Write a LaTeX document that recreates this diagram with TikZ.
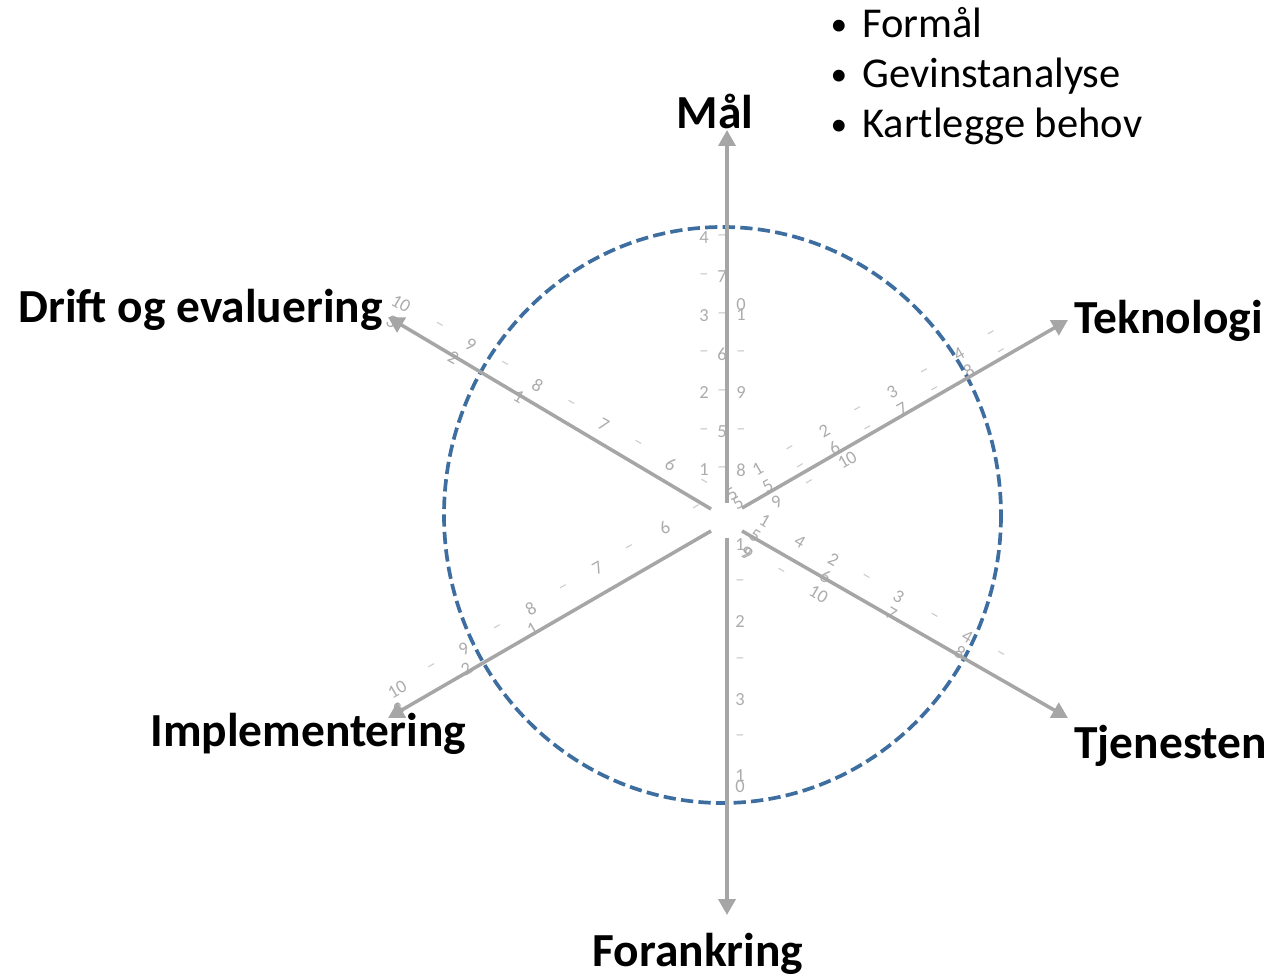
\documentclass[tikz,border=0pt]{standalone}
\usepackage{fontspec}
\setmainfont{Carlito}
\usetikzlibrary{arrows.meta}
\definecolor{axgray}{RGB}{166,166,166}
\definecolor{tkgray}{RGB}{172,172,172}
\definecolor{tdgray}{RGB}{200,200,200}
\definecolor{ringblue}{RGB}{62,110,160}
\tikzset{
  lab/.style={font=\fontsize{27}{30}\selectfont\bfseries, inner sep=0pt, text=black},
  bul/.style={font=\fontsize{24.2}{26}\selectfont, inner sep=0pt, text=black},
  bdot/.style={font=\fontsize{19}{20}\selectfont, inner sep=0pt, text=black},
  tk/.style={font=\fontsize{10.5}{11}\selectfont, inner sep=0pt, text=tkgray},
  tkd/.style={font=\fontsize{10.5}{11}\selectfont, inner sep=0pt, text=tdgray},
  axis/.style={draw=axgray, line width=2pt, -{Triangle[length=9pt,width=9.6pt]}},
  ring/.style={draw=ringblue, line width=2.1pt, dash pattern=on 7pt off 3pt}
}
% label along an axis: name, ux, uy, t, s, rotation, text
\newcommand\axl[7]{\node[tk,rotate=#6] (#1) at ({722+(#4)*(#2)+(#5)*(#3)},{517+(#4)*(#3)-(#5)*(#2)}) {#7};}
% tick dash along an axis: name, ux, uy, t, s, rotation
\newcommand\axd[6]{\node[tkd,rotate=#6] (#1) at ({722+(#4)*(#2)+(#5)*(#3)},{517+(#4)*(#3)-(#5)*(#2)}) {–};}
\begin{document}
\begin{tikzpicture}[x=0.02cm,y=-0.02cm]
\useasboundingbox (0,0) rectangle (1271,977);

% ---------- faint scale residue ----------
% up axis
\foreach \k/\t in {1/47,2/124,3/201,4/279} {\axl{uA\k}{0}{-1}{\t}{18}{0}{\k}}
\foreach \t [count=\i] in {85,163,240} {\axd{uAd\i}{0}{-1}{\t}{18}{0}}
\foreach \t [count=\i] in {47,124,201,279} {\axd{uBd\i}{0}{-1}{\t}{0}{0}}
\foreach \k/\t in {5/85,6/163,7/240} {\axl{uB\k}{0}{-1}{\t}{0}{0}{\k}}
\axl{uC8}{0}{-1}{47}{-19}{0}{8}
\axl{uC9}{0}{-1}{124}{-19}{0}{9}
\axl{uC10a}{0}{-1}{202}{-19}{0}{1}
\axl{uC10b}{0}{-1}{212}{-19}{0}{0}
\foreach \t [count=\i] in {85,163} {\axd{uCd\i}{0}{-1}{\t}{-19}{0}}
\node[tk,rotate=30] (c5a) at (732,494) {5};
\node[tk,rotate=30] (c5b) at (738,503) {5};

% down axis
\foreach \k/\t in {1/28,2/105,3/183} {\axl{dA\k}{0}{1}{\t}{18}{0}{\k}}
\axl{dA10a}{0}{1}{259}{18}{0}{1}
\axl{dA10b}{0}{1}{270}{18}{0}{0}
\foreach \t [count=\i] in {66,144,221} {\axd{dAd\i}{0}{1}{\t}{18}{0}}
\node[tk,rotate=-30] (d9) at (746,553) {9};

% upper right axis
\foreach \k/\t in {1/55,2/132,3/210,4/287} {\axl{rA\k}{0.867}{-0.497}{\t}{24}{30}{\k}}
\foreach \t [count=\i] in {93,171,248,325} {\axd{rAd\i}{0.867}{-0.497}{\t}{24}{30}}
\foreach \k/\t in {5/55,6/132,7/210,8/287} {\axl{rB\k}{0.867}{-0.497}{\t}{4}{30}{\k}}
\foreach \t [count=\i] in {93,171,248,325} {\axd{rBd\i}{0.867}{-0.497}{\t}{3}{30}}
\axl{rC9}{0.867}{-0.497}{55}{-14}{30}{9}
\axl{rC10}{0.867}{-0.497}{137}{-13}{30}{10}
\axd{rCd1}{0.867}{-0.497}{93}{-15}{30}

% lower right axis
\foreach \k/\t in {1/39,2/118,3/193,4/272} {\axl{lrA\k}{0.869}{0.496}{\t}{18}{-30}{\k}}
\axl{lrAx}{0.869}{0.496}{80}{17}{-30}{4}
\foreach \t [count=\i] in {155,233,310} {\axd{lrAd\i}{0.869}{0.496}{\t}{18}{-30}}
\foreach \k/\t in {5/38,6/119,7/195,8/274} {\axl{lrB\k}{0.869}{0.496}{\t}{0}{-30}{\k}}
\axl{lrC9}{0.869}{0.496}{40}{-19}{-30}{9}
\axl{lrC10}{0.869}{0.496}{122}{-19}{-30}{10}
\axd{lrCd1}{0.869}{0.496}{78}{-19}{-30}

% upper left axis
\foreach \k/\t in {6/71,7/149,8/226,9/304,10/385} {\axl{ulA\k}{-0.859}{-0.512}{\t}{-19}{-30}{\k}}
\foreach \t [count=\i] in {33,110,188,265,341} {\axd{ulAd\i}{-0.859}{-0.512}{\t}{-19}{-30}}
\foreach \k/\t in {1/236,2/312,3/384} {\axl{ulB\k}{-0.859}{-0.512}{\t}{1}{-30}{\k}}

% lower left axis
\foreach \k/\t in {6/55,7/133,8/211,9/289,10/367} {\axl{llA\k}{-0.857}{0.516}{\t}{-20}{30}{\k}}
\foreach \t [count=\i] in {17,95,172,249,326} {\axd{llAd\i}{-0.857}{0.516}{\t}{-20}{30}}
\foreach \k/\t in {1/220,2/297,3/376} {\axl{llB\k}{-0.857}{0.516}{\t}{-2}{30}{\k}}

% ---------- dashed ring ----------
\draw[ring] (722.5,515) ellipse [x radius=278.5, y radius=288];

% ---------- axes ----------
\coordinate (uS) at (727,503);  \coordinate (uE) at (727,130);
\coordinate (dS) at (727,538);  \coordinate (dE) at (727,915);
\coordinate (urS) at (742,508); \coordinate (urE) at (1068,320);
\coordinate (lrS) at (742,531); \coordinate (lrE) at (1068,718);
\coordinate (ulS) at (711,509); \coordinate (ulE) at (388,317);
\coordinate (llS) at (711,531); \coordinate (llE) at (388,718);
\draw[axis] (uS) -- (uE);
\draw[axis] (dS) -- (dE);
\draw[axis] (urS) -- (urE);
\draw[axis] (lrS) -- (lrE);
\draw[axis] (ulS) -- (ulE);
\draw[axis] (llS) -- (llE);

% ---------- axis titles ----------
\node[lab, anchor=base] (mal) at (715,128) {Mål};
\node[lab, anchor=base west] (tek) at (1074,333) {Teknologi};
\node[lab, anchor=base west] (tje) at (1074,758) {Tjenesten};
\node[lab, anchor=base] (for) at (698,966) {Forankring};
\node[lab, anchor=base west] (imp) at (150,746) {Implementering};
\node[lab, anchor=base east] (dri) at (383,322) {Drift og evaluering};

% ---------- bullet list ----------
\node[bdot, anchor=base] (p1) at (839,35) {•};
\node[bul, anchor=base west] (b1) at (862,37) {Formål};
\node[bdot, anchor=base] (p2) at (839,85) {•};
\node[bul, anchor=base west] (b2) at (862,87) {Gevinstanalyse};
\node[bdot, anchor=base] (p3) at (839,135) {•};
\node[bul, anchor=base west] (b3) at (862,137) {Kartlegge behov};
\end{tikzpicture}
\end{document}
